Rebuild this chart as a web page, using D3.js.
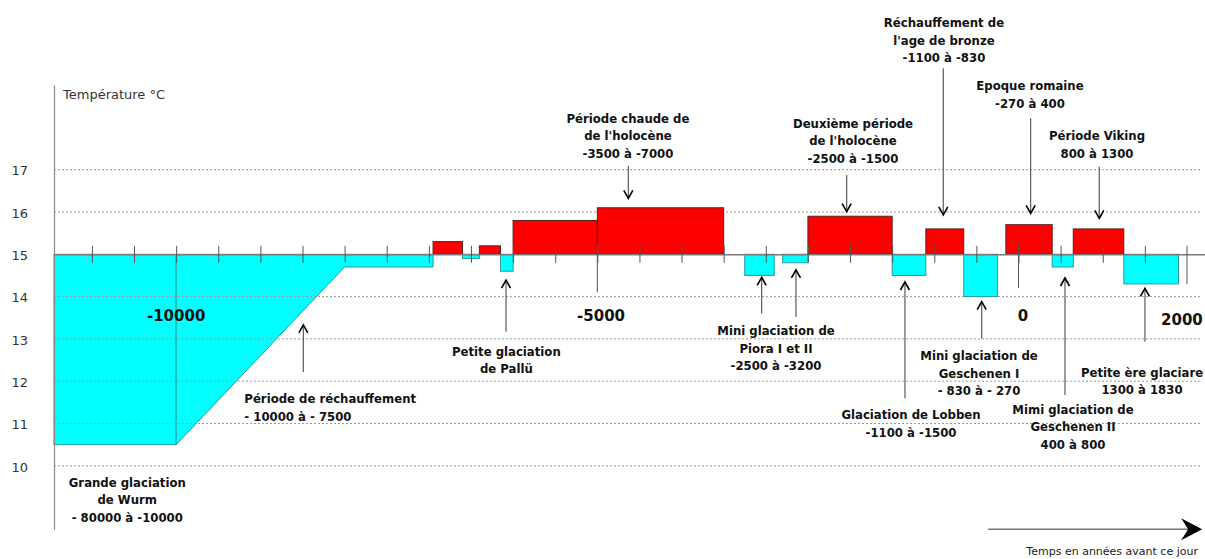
<!DOCTYPE html>
<html><head><meta charset="utf-8">
<script src="https://cdn.jsdelivr.net/npm/d3@7"></script>
<style>
body{margin:0;background:#fff;}
svg{display:block;}
.reg{font-family:"DejaVu Sans",Verdana,sans-serif;}
.ann{font-family:"DejaVu Sans Condensed","DejaVu Sans",sans-serif;font-stretch:condensed;font-weight:bold;}
</style></head><body>
<svg id="chart" width="1205" height="559"></svg>
<script>
// ---------------- DATA ----------------
const yTickValues = [10, 11, 12, 13, 14, 15, 16, 17];
const gridTemps = [10, 11, 12, 13, 14, 16, 17];
const minorTickYears = [-11000,-10500,-10000,-9500,-9000,-8500,-8000,-7500,-7000,-6500,-6000,-5500,-5000,-4500,-4000,-3500,-3000,-2500,-2000,-1500,-1000,-500,0,500,1000,1500];
const majorYears = [-5000, 0, 2000];
const majorLineEnds = [14.1, 14.2, 14.3];
const baseTemp = 15;

// Grande glaciation de Wurm and warming ramp
const wurmPeriod = [-11450, -10000];
const wurmTemp = 10.5;
const rampYears = [-10000, -8000, -6950];
const rampTemps = [10.5, 14.7, 14.7];

// Warm (red) / cold (cyan) periods
const barStart = [-6950, -6600, -6400, -6150, -6000, -5000, -3250, -2800, -2500, -1500, -1100, -650, -150, 400, 650, 1250];
const barEnd   = [-6600, -6400, -6150, -6000, -5000, -3500, -2900, -2500, -1500, -1100, -650, -250, 400, 650, 1250, 1900];
const barTemp  = [15.3, 14.9, 15.2, 14.6, 15.8, 16.1, 14.5, 14.8, 15.9, 14.5, 15.6, 14.0, 15.7, 14.7, 15.6, 14.3];

// Big year labels
const bigLabels = ["-10000", "-5000", "0", "2000"];
const bigLabelYears = [-10000, -4956, 53, 1940];
const bigLabelTemps = [13.43, 13.43, 13.43, 13.34];

// Annotations: text position (year, temp of first baseline), arrows [year, tailTemp, tipTemp]
const annotations = [
  {lines:["Grande glaciation","de Wurm","- 80000 à -10000"], year:-10580, temp:9.51, anchor:"middle", arrows:[]},
  {lines:["Période de réchauffement","- 10000 à - 7500"], year:-9190, temp:11.48, anchor:"start", arrows:[[-8490, 12.22, 13.33]]},
  {lines:["Petite glaciation","de Pallü"], year:-6080, temp:12.6, anchor:"middle", arrows:[[-6084, 13.17, 14.39]]},
  {lines:["Période chaude de","de l'holocène","-3500 à -7000"], year:-4636, temp:18.11, anchor:"middle", arrows:[[-4632, 17.09, 16.32]]},
  {lines:["Mini glaciation de","Piora I et II","-2500 à -3200"], year:-2879, temp:13.09, anchor:"middle", arrows:[[-3049, 13.6, 14.456],[-2642, 13.52, 14.63]]},
  {lines:["Deuxième période","de l'holocène","-2500 à -1500"], year:-1965, temp:17.99, anchor:"middle", arrows:[[-2040, 16.875, 16.007]]},
  {lines:["Glaciation de Lobben","-1100 à -1500"], year:-1276, temp:11.1, anchor:"middle", arrows:[[-1348, 11.596, 14.345]]},
  {lines:["Réchauffement de","l'age de bronze","-1100 à -830"], year:-885, temp:20.37, anchor:"middle", arrows:[[-893, 19.40, 15.93]]},
  {lines:["Mini glaciation de","Geschenen I","- 830 à - 270"], year:-469, temp:12.50, anchor:"middle", arrows:[[-437, 13.01, 13.88]]},
  {lines:["Epoque romaine","-270 à 400"], year:136, temp:18.884, anchor:"middle", arrows:[[144, 18.215, 15.97]]},
  {lines:["Mimi glaciation de","Geschenen II","400 à 800"], year:647, temp:11.225, anchor:"middle", arrows:[[552, 11.674, 14.44]]},
  {lines:["Période Viking","800 à 1300"], year:932, temp:17.70, anchor:"middle", arrows:[[959, 17.07, 15.85]]},
  {lines:["Petite ère glaciare","1300 à 1830"], year:1466, temp:12.11, anchor:"middle", arrows:[[1501, 12.93, 14.196]]}
];

const yAxisTitle = "Température °C";
const xAxisTitle = "Temps en années avant ce jour";
const timeArrow = [-360, 2180]; // years
const timeArrowTemp = 8.5;

// ---------------- DRAW ----------------
const W = 1205, H = 559;
const svg = d3.select("#chart");
const x = d3.scaleLinear().domain([-11450, 2214]).range([54, 1205]);
const y = d3.scaleLinear().domain([8.5, 19]).range([529.25, 85.1]);

const CYAN = "#00ffff", CYAN_STROKE = "#2a9a9a", RED = "#ff0000", RED_STROKE = "#552222";

// Wurm glaciation block
svg.append("rect")
  .attr("x", x(wurmPeriod[0])).attr("y", y(baseTemp))
  .attr("width", x(wurmPeriod[1]) - x(wurmPeriod[0]))
  .attr("height", y(wurmTemp) - y(baseTemp))
  .attr("fill", CYAN).attr("stroke", CYAN_STROKE).attr("stroke-width", 1);

// warming ramp
const rampPts = rampYears.map((d, i) => [d, rampTemps[i]]);
svg.append("path")
  .datum(rampPts)
  .attr("d", d3.area().x(d => x(d[0])).y0(y(baseTemp)).y1(d => y(d[1])))
  .attr("fill", CYAN).attr("stroke", CYAN_STROKE).attr("stroke-width", 1);

// grid
svg.append("g").selectAll("line").data(gridTemps).join("line")
  .attr("x1", x.range()[0]).attr("x2", W - 5)
  .attr("y1", d => y(d)).attr("y2", d => y(d))
  .attr("stroke", "#9a9a9a").attr("stroke-width", 1).attr("stroke-dasharray", "2,2");

// y axis
const yAxis = d3.axisLeft(y).tickValues(yTickValues).tickSize(0).tickSizeOuter(0).tickPadding(26).tickFormat(d3.format("d"));
const gy = svg.append("g").attr("transform", `translate(${x.range()[0]},0)`).call(yAxis);
gy.select(".domain").attr("stroke", "#8a8a8a").attr("stroke-width", 1.2);
gy.selectAll("text").attr("class", "reg").attr("font-size", 13).attr("fill", "#333").attr("dy", "0.4em");

svg.append("text").attr("class", "reg")
  .attr("x", x.range()[0] + 9).attr("y", y(19) + 14)
  .attr("font-size", 13).attr("fill", "#333").text(yAxisTitle);

// bars
const bars = barStart.map((s, i) => ({s, e: barEnd[i], t: barTemp[i]}));
svg.append("g").selectAll("rect").data(bars).join("rect")
  .attr("x", d => x(d.s))
  .attr("width", d => x(d.e) - x(d.s))
  .attr("y", d => y(Math.max(d.t, baseTemp)))
  .attr("height", d => Math.abs(y(d.t) - y(baseTemp)))
  .attr("fill", d => d.t > baseTemp ? RED : CYAN)
  .attr("stroke", d => d.t > baseTemp ? RED_STROKE : CYAN_STROKE)
  .attr("stroke-width", 1);

// x axis (baseline at 15 °C) with ticks crossing it
const xAxis = d3.axisBottom(x).tickValues(minorTickYears).tickSize(8.5).tickSizeOuter(0).tickFormat("");
const gx = svg.append("g").attr("transform", `translate(0,${y(baseTemp)})`).call(xAxis);
gx.select(".domain").attr("stroke", "#7a7a7a").attr("stroke-width", 1.4);
gx.selectAll(".tick line").attr("y1", -8.5).attr("stroke", "#555").attr("stroke-width", 1);

// major year lines
svg.append("g").selectAll("line").data(majorYears).join("line")
  .attr("x1", d => x(d)).attr("x2", d => x(d))
  .attr("y1", y(baseTemp) - 8.5).attr("y2", (d, i) => y(majorLineEnds[i]))
  .attr("stroke", "#555").attr("stroke-width", 1);

// big year labels
svg.append("g").selectAll("text").data(bigLabels).join("text")
  .attr("x", (d, i) => x(bigLabelYears[i])).attr("y", (d, i) => y(bigLabelTemps[i]))
  .attr("text-anchor", "middle")
  .attr("font-family", "'DejaVu Sans',Verdana,sans-serif").attr("font-weight", "bold")
  .attr("font-size", 15).attr("fill", "#111")
  .text(d => d);

// annotations
const LH = 17.5;
const ga = svg.append("g");
annotations.forEach(a => {
  const t = ga.append("text").attr("class", "ann")
    .attr("font-size", 13).attr("fill", "#111").attr("text-anchor", a.anchor);
  a.lines.forEach((l, i) => {
    t.append("tspan").attr("x", x(a.year)).attr("y", y(a.temp) + i * LH).text(l);
  });
  a.arrows.forEach(ar => {
    const ax = x(ar[0]), yTail = y(ar[1]), yTip = y(ar[2]);
    ga.append("line").attr("x1", ax).attr("x2", ax).attr("y1", yTail).attr("y2", yTip)
      .attr("stroke", "#5a5a5a").attr("stroke-width", 1.2);
    const dir = yTip > yTail ? -1 : 1;
    ga.append("path")
      .attr("d", `M${ax - 4.5},${yTip + dir * 8}L${ax},${yTip}L${ax + 4.5},${yTip + dir * 8}`)
      .attr("fill", "none").attr("stroke", "#000").attr("stroke-width", 1.6);
  });
});

// time arrow
const tx1 = x(timeArrow[0]), tx2 = x(timeArrow[1]), ty = y(timeArrowTemp);
svg.append("line").attr("x1", tx1).attr("x2", tx2 - 8).attr("y1", ty).attr("y2", ty)
  .attr("stroke", "#777").attr("stroke-width", 1.5);
svg.append("path")
  .attr("d", `M${tx2},${ty}L${tx2 - 21},${ty - 11}L${tx2 - 14},${ty}L${tx2 - 21},${ty + 11}Z`)
  .attr("fill", "#000");
svg.append("text").attr("class", "reg")
  .attr("x", (tx1 + tx2) / 2 + 17).attr("y", H - 4)
  .attr("text-anchor", "middle").attr("font-size", 11).attr("fill", "#222")
  .text(xAxisTitle);
</script>
</body></html>
